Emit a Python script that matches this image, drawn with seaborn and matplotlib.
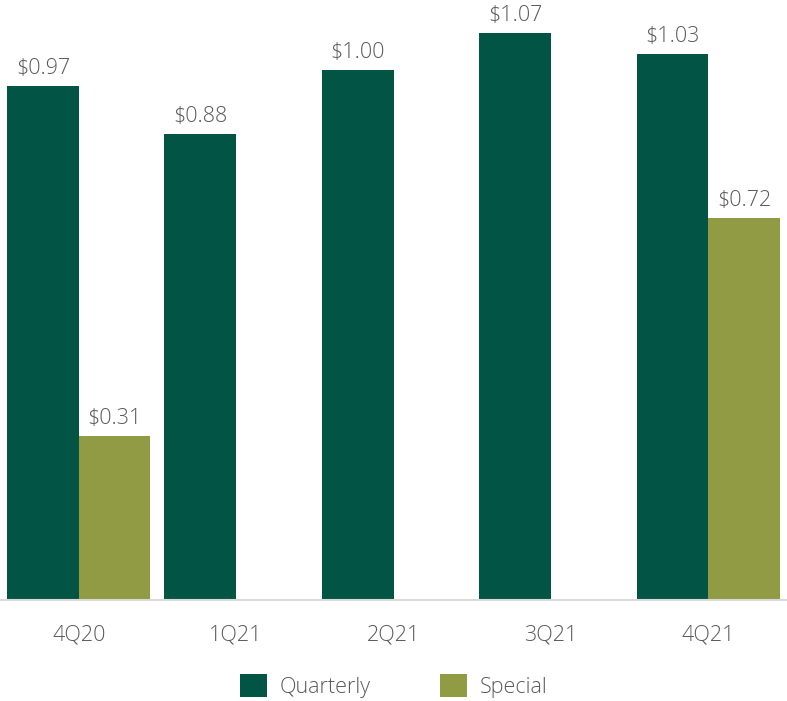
import matplotlib
matplotlib.use("Agg")
import matplotlib.pyplot as plt
import numpy as np
import pandas as pd
import seaborn as sns

quarters = ["4Q20", "1Q21", "2Q21", "3Q21", "4Q21"]
quarterly = [0.97, 0.88, 1.00, 1.07, 1.03]
special = [0.31, np.nan, np.nan, np.nan, 0.72]
series_names = ["Quarterly", "Special"]
colors = ["#025544", "#909B43"]

df = pd.DataFrame({
    "quarter": quarters * 2,
    "value": quarterly + special,
    "type": [series_names[0]] * len(quarters) + [series_names[1]] * len(quarters),
}).dropna()

sns.set_theme(style="white")
plt.rcParams["font.family"] = ["Open Sans", "DejaVu Sans"]
plt.rcParams["font.weight"] = "light"
text_color = "#595959"

fig = plt.figure(figsize=(7.87, 7.01), dpi=100)
ax = fig.add_axes([0.0, 101 / 701, 1.0, 600 / 701])

sns.barplot(
    data=df, x="quarter", y="value", hue="type",
    order=quarters, hue_order=series_names,
    palette=colors, width=0.91, saturation=1,
    linewidth=0, ax=ax, legend=True,
)

for cont in ax.containers:
    ax.bar_label(cont, fmt="${:.2f}", padding=5, fontsize=15.5,
                 color=text_color)

ax.set_xlim(-0.5, len(quarters) - 0.5)
ax.set_ylim(0, 1.132)
ax.set_xlabel("")
ax.set_ylabel("")
ax.set_yticks([])
ax.tick_params(axis="x", length=0, pad=18, labelsize=15.5, labelcolor=text_color)
for side in ["left", "right", "top"]:
    ax.spines[side].set_visible(False)
ax.spines["bottom"].set_color("#d9d9d9")
ax.spines["bottom"].set_linewidth(1.5)

handles, labels = ax.get_legend_handles_labels()
ax.get_legend().remove()
fig.legend(
    handles, labels, loc="center", bbox_to_anchor=(0.5, 1 - 686 / 701),
    ncol=2, frameon=False, fontsize=15.5, labelcolor=text_color,
    handlelength=1.25, handleheight=1.25, handletextpad=0.6,
    columnspacing=3.2,
)

fig.savefig("out.png", dpi=100)
